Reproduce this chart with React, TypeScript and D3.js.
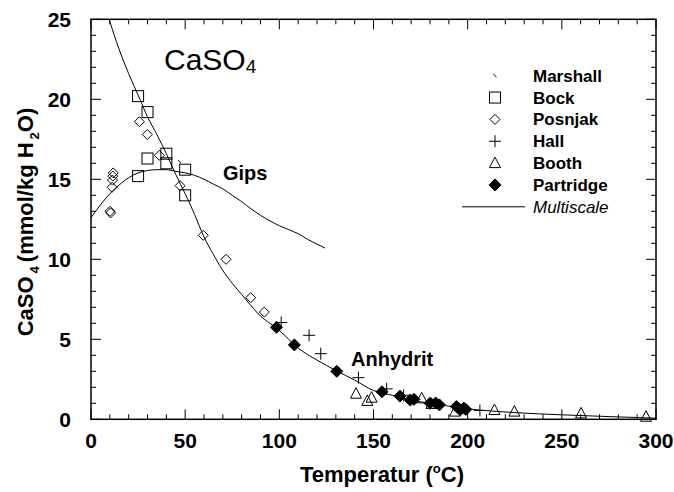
import React from 'react';
import * as d3 from 'd3';

// Temperatur (°C), CaSO4 (mmol/kg H2O)
const marshall: [number, number][] = [[47, 16.1]];
const bock: [number, number][] = [
  [25, 20.2], [30, 19.2], [30, 16.3], [40, 16.6], [40, 16.0], [25, 15.2], [50, 15.6], [50, 14.0],
];
const posnjak: [number, number][] = [
  [11.8, 15.4], [11.6, 15.2], [11.4, 14.95], [11.2, 14.5], [10.1, 13.0], [10.4, 12.9],
  [25.7, 18.6], [29.9, 17.8], [36.3, 16.5], [47.3, 14.6], [59.6, 11.5], [71.7, 10.0], [84.8, 7.6], [92, 6.7],
];
const hall: [number, number][] = [
  [101, 6.05], [115.8, 5.25], [122, 4.1], [142, 2.6], [157, 1.9], [166, 1.5], [206.5, 0.55],
];
const booth: [number, number][] = [
  [140.7, 1.6], [146.7, 1.15], [149, 1.35], [175.6, 1.31], [180.8, 0.96], [193.3, 0.48],
  [214.2, 0.58], [224.8, 0.48], [260.2, 0.37], [294.7, 0.16],
];
const partridge: [number, number][] = [
  [98.5, 5.75], [108, 4.65], [130.5, 3.0], [154.5, 1.72], [164, 1.45], [169.5, 1.2], [171.5, 1.25],
  [180, 1.0], [183, 1.02], [185, 0.9], [194, 0.8], [196, 0.6], [198, 0.7], [199, 0.62],
];
const gipsCurve: [number, number][] = [
  [0, 12.6], [5, 13.4], [10, 14.1], [15, 14.65], [20, 15.1], [25, 15.4], [30, 15.55], [35, 15.6],
  [40, 15.6], [45, 15.5], [50, 15.4], [55, 15.25], [60, 15.0], [65, 14.7], [70, 14.4], [75, 14.0],
  [80, 13.6], [85, 13.15], [90, 12.75], [95, 12.4], [100, 12.1], [105, 11.85], [110, 11.6],
  [115, 11.25], [120, 10.95], [124.3, 10.7],
];
const anhydritCurve: [number, number][] = [
  [9.6, 25], [15, 23.1], [20, 21.6], [26, 20], [30, 18.9], [35, 17.8], [40, 16.6], [45, 15.3],
  [50, 14.1], [55, 12.8], [60, 11.4], [65, 10.3], [70, 9.3], [75, 8.5], [80, 7.8], [85, 7.1],
  [90, 6.45], [95, 6.0], [100, 5.55], [110, 4.45], [120, 3.7], [130, 3.05], [140, 2.45], [150, 1.8],
  [160, 1.5], [170, 1.2], [180, 1.0], [190, 0.82], [200, 0.66], [225, 0.42], [250, 0.28], [275, 0.17],
  [300, 0.07],
];
const legendNames = ['Marshall', 'Bock', 'Posnjak', 'Hall', 'Booth', 'Partridge', 'Multiscale'];
const xTicks = [0, 50, 100, 150, 200, 250, 300];
const yTicks = [0, 5, 10, 15, 20, 25];

const FONT = "'Liberation Sans', Arial, Helvetica, sans-serif";

function Marker({ type, cx, cy }: { type: string; cx: number; cy: number }) {
  const st = { stroke: '#000', strokeWidth: 1, fill: 'none' };
  if (type === 'Marshall') return <line x1={cx - 1.7} y1={cy - 1.7} x2={cx + 1.5} y2={cy + 1.5} {...st} />;
  if (type === 'Bock') return <rect x={cx - 5.5} y={cy - 5.5} width={11} height={11} {...st} fill="#fff" fillOpacity={0} />;
  if (type === 'Posnjak')
    return <path d={`M${cx},${cy - 5}L${cx + 5},${cy}L${cx},${cy + 5}L${cx - 5},${cy}Z`} {...st} />;
  if (type === 'Hall')
    return <path d={`M${cx - 6},${cy}H${cx + 6}M${cx},${cy - 6}V${cy + 6}`} {...st} />;
  if (type === 'Booth')
    return <path d={`M${cx},${cy - 6}L${cx + 5.5},${cy + 4.5}L${cx - 5.5},${cy + 4.5}Z`} {...st} />;
  if (type === 'Partridge')
    return <path d={`M${cx},${cy - 6}L${cx + 6},${cy}L${cx},${cy + 6}L${cx - 6},${cy}Z`} fill="#000" stroke="#000" />;
  return null;
}

export default function App() {
  const x = d3.scaleLinear().domain([0, 300]).range([91, 656]);
  const y = d3.scaleLinear().domain([0, 25]).range([419.3, 19.3]);
  const line = d3.line<[number, number]>().x(d => x(d[0])).y(d => y(d[1])).curve(d3.curveMonotoneX);

  const xMinor = d3.range(0, 301, 10);
  const yMinor = d3.range(0, 26, 1);
  const [x0, x1] = x.range();
  const [y0, y1] = y.range();

  const series: [string, [number, number][]][] = [
    ['Marshall', marshall], ['Bock', bock], ['Posnjak', posnjak], ['Hall', hall], ['Booth', booth], ['Partridge', partridge],
  ];

  return (
    <svg width={674} height={492} style={{ position: 'absolute', left: 0, top: 0, background: '#fff' }} fontFamily={FONT}>
      {/* curves */}
      <path d={line(gipsCurve) || ''} fill="none" stroke="#000" strokeWidth={1} />
      <path d={line(anhydritCurve) || ''} fill="none" stroke="#000" strokeWidth={1} />

      {/* points */}
      {series.map(([name, pts]) => (
        <g key={name}>
          {pts.map((p, i) => <Marker key={i} type={name} cx={x(p[0])} cy={y(p[1])} />)}
        </g>
      ))}

      {/* frame */}
      <rect x={x0} y={y1} width={x1 - x0} height={y0 - y1} fill="none" stroke="#000" strokeWidth={1.5} />
      {xMinor.map(t => {
        const len = t % 50 === 0 ? 10 : 5;
        return (
          <g key={'xt' + t} stroke="#000" strokeWidth={1}>
            <line x1={x(t)} x2={x(t)} y1={y0} y2={y0 - len} />
            <line x1={x(t)} x2={x(t)} y1={y1} y2={y1 + len} />
          </g>
        );
      })}
      {yMinor.map(t => {
        const len = t % 5 === 0 ? 10 : 5;
        return (
          <g key={'yt' + t} stroke="#000" strokeWidth={1}>
            <line x1={x0} x2={x0 + len} y1={y(t)} y2={y(t)} />
            <line x1={x1} x2={x1 - len} y1={y(t)} y2={y(t)} />
          </g>
        );
      })}

      {/* tick labels */}
      {xTicks.map(t => (
        <text key={'xl' + t} x={x(t)} y={448} textAnchor="middle" fontSize={21} fontWeight="bold">{t}</text>
      ))}
      {yTicks.map(t => (
        <text key={'yl' + t} x={71} y={y(t) + 7.5} textAnchor="end" fontSize={21} fontWeight="bold">{t}</text>
      ))}

      {/* axis titles */}
      <text x={382} y={482} textAnchor="middle" fontSize={22} fontWeight="bold">
        Temperatur  (<tspan fontSize={13} dy={-9}>o</tspan><tspan dy={9}>C)</tspan>
      </text>
      <text transform="translate(33,222) rotate(-90)" textAnchor="middle" fontSize={22} fontWeight="bold">
        CaSO<tspan fontSize={13} dx={3} dy={6}>4</tspan>
        <tspan dx={4} dy={-6}>(mmol/kg H</tspan>
        <tspan fontSize={13} dx={3} dy={6}>2</tspan>
        <tspan dy={-6}>O)</tspan>
      </text>

      {/* annotations */}
      <text x={164} y={70} fontSize={30}>CaSO<tspan fontSize={19} dy={3}>4</tspan></text>
      <text x={223} y={180} fontSize={20} fontWeight="bold">Gips</text>
      <text x={351} y={366} fontSize={20} fontWeight="bold">Anhydrit</text>

      {/* legend */}
      {legendNames.map((name, i) => {
        const cy = 75.7 + i * 21.85;
        return (
          <g key={name}>
            {name === 'Multiscale'
              ? <line x1={462} x2={525} y1={cy} y2={cy} stroke="#000" strokeWidth={1} />
              : <Marker type={name} cx={495} cy={cy} />}
            <text x={533} y={cy + 6} fontSize={17} fontWeight={name === 'Multiscale' ? 'normal' : 'bold'}
              fontStyle={name === 'Multiscale' ? 'italic' : 'normal'}>{name}</text>
          </g>
        );
      })}
    </svg>
  );
}
